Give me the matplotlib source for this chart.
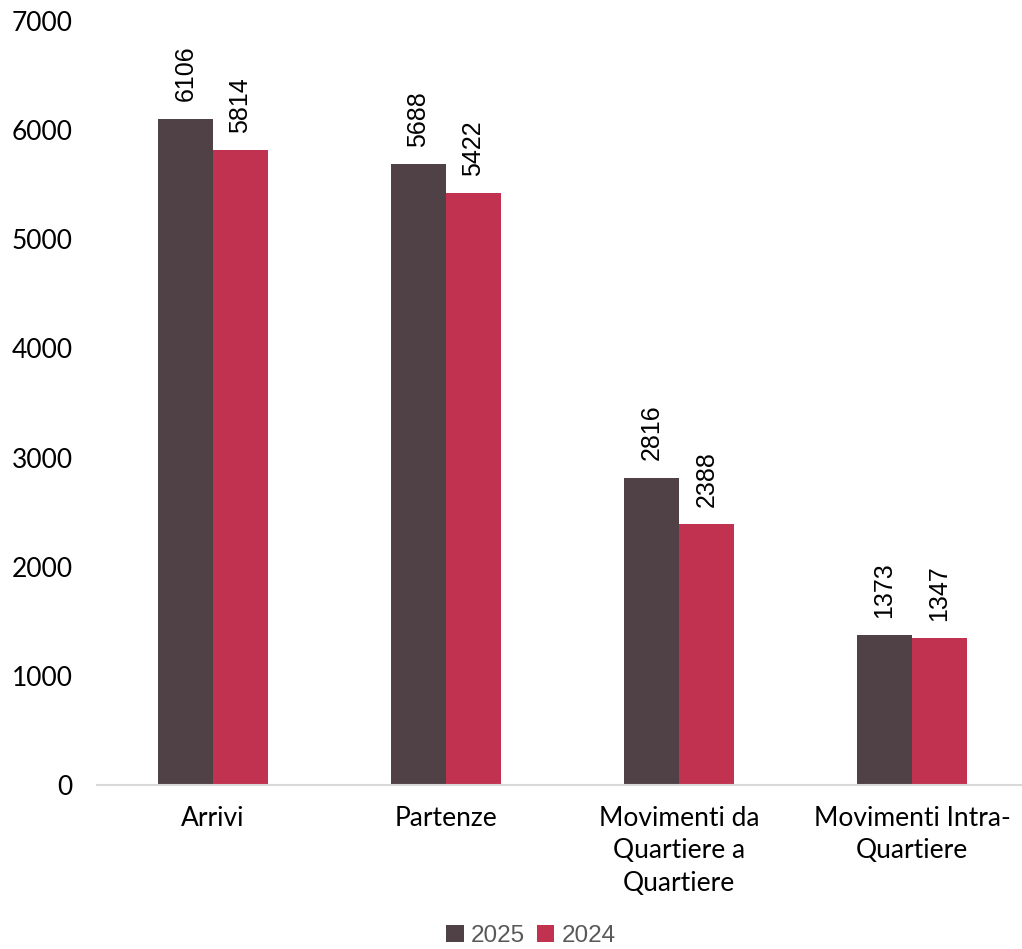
import matplotlib
matplotlib.use("Agg")
import matplotlib.pyplot as plt
import numpy as np

categories = ["Arrivi", "Partenze", "Movimenti da\nQuartiere a\nQuartiere", "Movimenti Intra-\nQuartiere"]
series_2025 = [6106, 5688, 2816, 1373]
series_2024 = [5814, 5422, 2388, 1347]
yticks = [0, 1000, 2000, 3000, 4000, 5000, 6000, 7000]

c25 = "#504146"
c24 = "#C0324F"

fig = plt.figure(figsize=(10.22, 9.49), dpi=100)
ax = fig.add_axes([96.5/1022, 1-785/949, 932/1022, (785-21)/949])

x = np.arange(len(categories))
w = 0.236
b1 = ax.bar(x - w/2, series_2025, w, color=c25, label="2025")
b2 = ax.bar(x + w/2, series_2024, w, color=c24, label="2024")

for bars, vals in ((b1, series_2025), (b2, series_2024)):
    for r, v in zip(bars, vals):
        ax.annotate(str(v), (r.get_x() + r.get_width()/2, r.get_height()),
                    xytext=(0, 12.5), textcoords="offset points", rotation=90,
                    ha="center", va="bottom", fontsize=18, family="Liberation Sans",
                    color="#000000")

ax.set_xlim(-0.5, 3.5)
ax.set_ylim(0, 7000)
ax.set_yticks(yticks)
ax.set_yticklabels([str(t) for t in yticks], family="Lato", fontsize=19)
ax.set_xticks(x)
ax.set_xticklabels(categories, family="Lato", fontsize=19, linespacing=1.38)
ax.tick_params(axis="both", length=0)
ax.tick_params(axis="y", pad=17)
ax.tick_params(axis="x", pad=15)
for s in ("top", "right", "left"):
    ax.spines[s].set_visible(False)
ax.spines["bottom"].set_color("#D9D9D9")
ax.spines["bottom"].set_linewidth(1.5)

leg = fig.legend(handles=[b1, b2], labels=["2025", "2024"], loc="center",
                 bbox_to_anchor=(531/1022, 1-936/949), ncol=2, frameon=False,
                 prop={"family": "Liberation Sans", "size": 17.5},
                 handlelength=0.7, handleheight=0.7, handletextpad=0.3, columnspacing=0.5)
for t in leg.get_texts():
    t.set_color("#595959")

fig.savefig("out.png", dpi=100)
